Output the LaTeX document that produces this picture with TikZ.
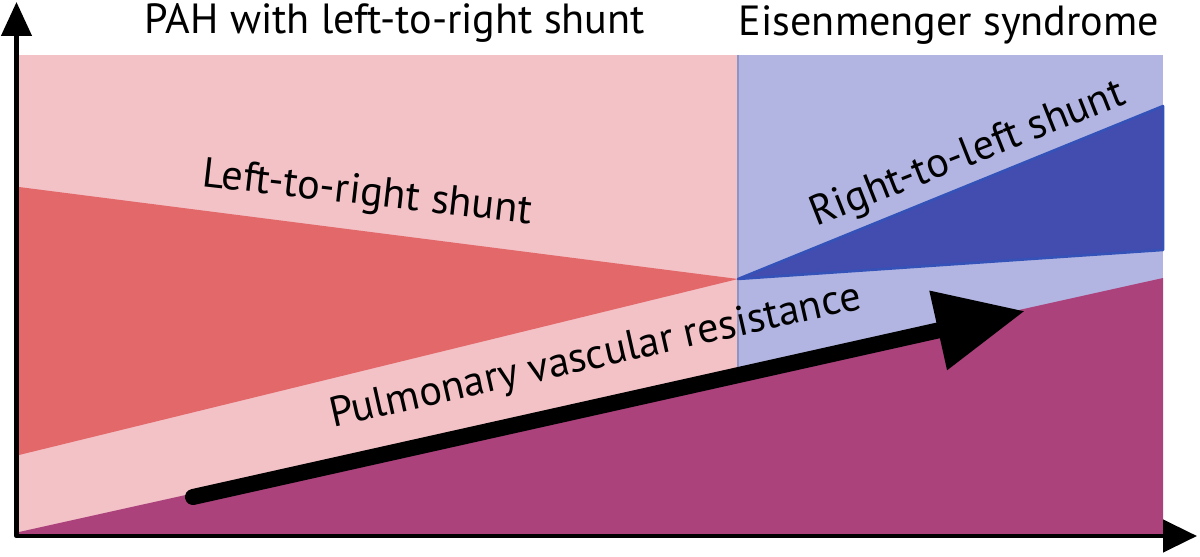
\documentclass[tikz,border=0pt]{standalone}
\usepackage{fontspec}
\setmainfont{PT Sans}
\usetikzlibrary{arrows.meta}
\definecolor{pahpink}{HTML}{F3C2C7}
\definecolor{lrred}{HTML}{E2686A}
\definecolor{eisblue}{HTML}{B2B5E2}
\definecolor{rlblue}{HTML}{424DAF}
\definecolor{rledge}{HTML}{3452B8}
\definecolor{pvrpurple}{HTML}{AB427C}
\definecolor{divline}{HTML}{8E94C4}
\begin{document}
\begin{tikzpicture}[x=0.02cm, y=-0.02cm, line join=round, font=\fontsize{24}{28}\selectfont]
				\tikzset{every node/.style={inner sep=0pt}, axis/.style={line width=0.09cm, {Triangle[length=0.68cm,width=0.6cm]}-{Triangle[length=0.68cm,width=0.64cm]}}}
				\useasboundingbox (0,0) rectangle (1200,557);
				\def\xl{19}\def\xm{738}\def\xr{1163}\def\yt{55}\def\yb{535}
				\coordinate (J) at (\xm,279);
				\coordinate (P0) at (193,497);
				\coordinate (P1) at (1025,311);
				\coordinate (O) at (16.5,536);
				% regions
				\fill[pahpink] (\xl,\yt) rectangle (\xm,\yb);
				\fill[eisblue] (\xm,\yt) rectangle (\xr,\yb);
				\draw[divline, line width=0.03cm] (\xm,\yt)--(\xm,\yb);
				\fill[lrred] (\xl,187)--(J)--(\xl,455)--cycle;
				\filldraw[fill=rlblue, draw=rledge, line width=0.05cm] (J)--(\xr,106)--(\xr,250)--cycle;
				\fill[pvrpurple] (\xl,532)--(\xr,278)--(\xr,\yb)--(\xl,\yb)--cycle;
				% resistance arrow
				\draw[line width=0.32cm, line cap=round, -{Triangle[length=1.78cm,width=1.54cm]}] (P0)--(P1);
				% labels
				\node[anchor=base] (pah) at (395,34) {PAH with left-to-right shunt};
				\node[anchor=base] (eis) at (949,36) {Eisenmenger syndrome};
				\node[anchor=base, rotate=-6.5] (lr) at (366,205) {Left-to-right shunt};
				\node[anchor=base, rotate=21.6] (rl) at (972,165) {Right-to-left shunt};
				\node[anchor=base, rotate=12.7] (pvr) at (598,368) {Pulmonary vascular resistance};
				% axes
				\draw[axis] (16.5,2)--(O)--(1197,536);
			\end{tikzpicture}
\end{document}
